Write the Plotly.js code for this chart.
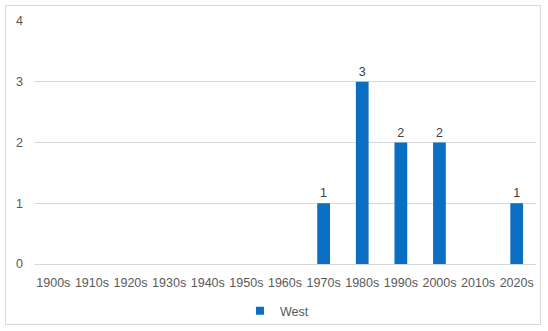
<!DOCTYPE html>
<html>
<head>
<meta charset="utf-8">
<script src="https://cdn.plot.ly/plotly-3.0.1.min.js"></script>
<style>
  html, body { margin: 0; padding: 0; background: #fff; }
  #frame { position: absolute; left: 5px; top: 5px; width: 536px; height: 320px; border: 1px solid #d9d9d9; box-sizing: border-box; }
  #chart { position: absolute; left: 0; top: 0; width: 548px; height: 331px; }
</style>
</head>
<body>
<div id="frame"></div>
<div id="chart"></div>
<script>
const categories = ["1900s","1910s","1920s","1930s","1940s","1950s","1960s","1970s","1980s","1990s","2000s","2010s","2020s"];
const westValues = [null,null,null,null,null,null,null,1,3,2,2,null,1];
const yTicks = [0,1,2,3,4];
const seriesName = "West";
const barColor = "#0a6fc2";

const barTrace = {
  type: "bar",
  x: categories,
  y: westValues,
  name: seriesName,
  marker: { color: barColor },
  text: westValues.map(v => v == null ? "" : String(v)),
  textposition: "outside",
  cliponaxis: false,
  textfont: { family: "Liberation Sans, Arial, sans-serif", size: 12.5, color: "#404040" },
  showlegend: false,
  legendgroup: "w",
  hoverinfo: "x+y"
};

const legendTrace = {
  type: "scatter",
  mode: "markers",
  x: [null],
  y: [null],
  name: seriesName,
  legendgroup: "w",
  marker: { symbol: "square", size: 8, color: barColor },
  showlegend: true
};

const layout = {
  width: 548,
  height: 331,
  margin: { l: 34, r: 12, t: 21, b: 67, autoexpand: false },
  paper_bgcolor: "rgba(0,0,0,0)",
  plot_bgcolor: "rgba(0,0,0,0)",
  bargap: 0.67,
  font: { family: "Liberation Sans, Arial, sans-serif", size: 12.5, color: "#595959" },
  xaxis: {
    type: "category",
    categoryorder: "array",
    categoryarray: categories,
    showgrid: false,
    showline: false,
    ticks: "",
    tickfont: { size: 12.5, color: "#595959" },
    ticklabelstandoff: 9,
    fixedrange: true,
    automargin: false
  },
  yaxis: {
    range: [0, 4],
    tickvals: yTicks,
    showgrid: true,
    gridcolor: "#d9d9d9",
    gridwidth: 1,
    zeroline: true,
    zerolinecolor: "#d9d9d9",
    showline: false,
    ticks: "",
    tickfont: { size: 12.5, color: "#595959" },
    ticklabelstandoff: 10,
    fixedrange: true,
    automargin: false
  },
  showlegend: true,
  legend: {
    orientation: "h",
    x: 0.484,
    xanchor: "center",
    yref: "container",
    y: 0.06,
    yanchor: "middle",
    font: { size: 12.5, color: "#595959" },
    itemwidth: 30
  }
};

Plotly.newPlot("chart", [barTrace, legendTrace], layout, { displayModeBar: false, staticPlot: true });
</script>
</body>
</html>
